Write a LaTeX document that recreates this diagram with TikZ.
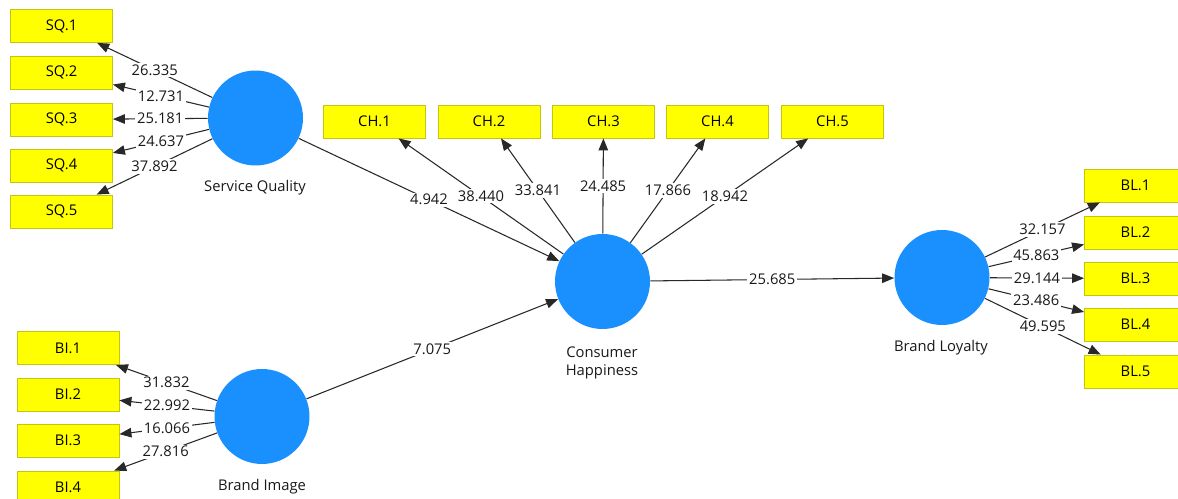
\documentclass[tikz,border=0pt]{standalone}
\usepackage{fontspec}
\setmainfont{Open Sans}
\usetikzlibrary{arrows.meta}
\definecolor{lvblue}{RGB}{26,144,255}
\definecolor{mvyellow}{RGB}{255,255,0}
\definecolor{mvedge}{RGB}{196,196,20}
\definecolor{linkgray}{RGB}{40,40,40}
\definecolor{txt}{RGB}{25,25,25}
\tikzset{
  x=0.02cm, y=-0.02cm,
  every node/.style={font=\fontsize{8.4}{10}\selectfont, text=txt},
  latent/.style={circle, fill=lvblue, draw=none, minimum size=1.9cm, inner sep=0pt},
  indicator/.style={rectangle, fill=mvyellow, draw=mvedge, line width=0.5pt,
    minimum width=2.04cm, minimum height=0.66cm, inner sep=0pt, text=black},
  link/.style={draw=linkgray, line width=0.6pt,
    -{Triangle[length=0.24cm, width=0.19cm]}},
  coef/.style={fill=white, inner sep=1pt, midway},
  lvlabel/.style={align=center},
}
\begin{document}
\begin{tikzpicture}
\useasboundingbox (0,0) rectangle (1178,499);
\clip (0,0) rectangle (1178,499);
\fill[white] (0,0) rectangle (1178,499);

% latent variables
\node[latent] (sq) at (255.5,118) {};
\node[latent] (bi) at (262,416.5) {};
\node[latent] (ch) at (602.5,281.5) {};
\node[latent] (bl) at (942,277.5) {};

\node[lvlabel] (sqlab) at (255,188) {Service Quality};
\node[lvlabel] (bilab) at (262,487) {Brand Image};
\node[lvlabel] (chlab) at (602,363) {Consumer\\Happiness};
\node[lvlabel] (bllab) at (941,348) {Brand Loyalty};

% Service Quality indicators
\node[indicator] (sq1) at (61.5,26) {SQ.1};
\node[indicator] (sq2) at (61.5,72.5) {SQ.2};
\node[indicator] (sq3) at (61.5,119.5) {SQ.3};
\node[indicator] (sq4) at (61.5,165.5) {SQ.4};
\node[indicator] (sq5) at (61.5,211.5) {SQ.5};

% Brand Image indicators
\node[indicator] (bi1) at (68,348) {BI.1};
\node[indicator] (bi2) at (68,394.5) {BI.2};
\node[indicator] (bi3) at (68,440.5) {BI.3};
\node[indicator] (bi4) at (68,487.5) {BI.4};

% Consumer Happiness indicators
\node[indicator] (ch1) at (374.5,121.5) {CH.1};
\node[indicator] (ch2) at (489,121.5) {CH.2};
\node[indicator] (ch3) at (603.5,121.5) {CH.3};
\node[indicator] (ch4) at (717.5,121.5) {CH.4};
\node[indicator] (ch5) at (832.5,121.5) {CH.5};

% Brand Loyalty indicators
\node[indicator] (bl1) at (1135.5,185.5) {BL.1};
\node[indicator] (bl2) at (1135.5,232.5) {BL.2};
\node[indicator] (bl3) at (1135.5,278.5) {BL.3};
\node[indicator] (bl4) at (1135.5,324.5) {BL.4};
\node[indicator] (bl5) at (1135.5,371.5) {BL.5};

% outer loadings
\draw[link] (sq) -- (sq1) node[coef] (l1) {26.335};
\draw[link] (sq) -- (sq2) node[coef] (l2) {12.731};
\draw[link] (sq) -- (sq3) node[coef] (l3) {25.181};
\draw[link] (sq) -- (sq4) node[coef] (l4) {24.637};
\draw[link] (sq) -- (sq5) node[coef] (l5) {37.892};

\draw[link] (bi) -- (bi1) node[coef] (l6) {31.832};
\draw[link] (bi) -- (bi2) node[coef] (l7) {22.992};
\draw[link] (bi) -- (bi3) node[coef] (l8) {16.066};
\draw[link] (bi) -- (bi4) node[coef] (l9) {27.816};

\draw[link] (ch) -- (ch1) node[coef] (l10) {38.440};
\draw[link] (ch) -- (ch2) node[coef] (l11) {33.841};
\draw[link] (ch) -- (ch3) node[coef] (l12) {24.485};
\draw[link] (ch) -- (ch4) node[coef] (l13) {17.866};
\draw[link] (ch) -- (ch5) node[coef] (l14) {18.942};

\draw[link] (bl) -- (bl1) node[coef] (l15) {32.157};
\draw[link] (bl) -- (bl2) node[coef] (l16) {45.863};
\draw[link] (bl) -- (bl3) node[coef] (l17) {29.144};
\draw[link] (bl) -- (bl4) node[coef] (l18) {23.486};
\draw[link] (bl) -- (bl5) node[coef] (l19) {49.595};

% structural paths
\draw[link] (sq) -- (ch) node[coef] (p1) {4.942};
\draw[link] (bi) -- (ch) node[coef] (p2) {7.075};
\draw[link] (ch) -- (bl) node[coef] (p3) {25.685};
\end{tikzpicture}
\end{document}
